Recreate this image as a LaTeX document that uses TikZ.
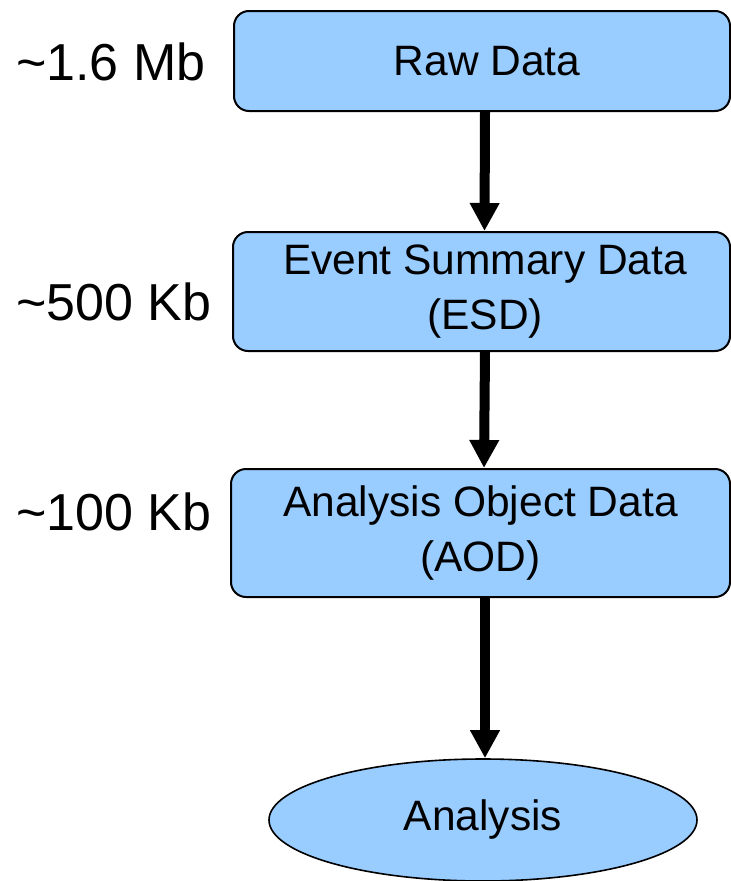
\documentclass[tikz,border=0pt]{standalone}
\usepackage{fontspec}
\setmainfont{Liberation Sans}
\usetikzlibrary{arrows.meta,shapes.geometric}

\definecolor{boxblue}{RGB}{153,204,255}

\tikzset{
  stage/.style={draw=black, line width=2pt, fill=boxblue, rounded corners=15pt,
    align=center, inner sep=0pt, font=\fontsize{42.5}{55}\selectfont},
  goal/.style={draw=black, line width=1.6pt, fill=boxblue, ellipse, inner sep=0pt,
    minimum width=428pt, minimum height=122pt, font=\fontsize{42.5}{50}\selectfont},
  size/.style={anchor=base west, inner sep=0pt, font=\fontsize{52}{60}\selectfont},
  flow/.style={line width=10pt, -{Triangle[width=28pt,length=28pt]}},
}

\begin{document}
\begin{tikzpicture}[x=1pt, y=-1pt]
  \useasboundingbox (0,0) rectangle (731,881);

  % processing stages
  \node[stage, minimum width=496pt, minimum height=100pt] (raw) at (482,61)
    {\hspace*{10pt}Raw Data};
  \node[stage, minimum width=497pt, minimum height=119pt] (esd) at (481.5,291.5)
    {\hspace*{7pt}Event Summary Data\\\hspace*{7pt}(ESD)};
  \node[stage, minimum width=499pt, minimum height=128pt] (aod) at (480.5,533)
    {Analysis Object Data\\(AOD)};
  \node[goal] (ana) at (483,820) {Analysis};

  % event sizes
  \node[size] (s1) at (16,80) {\char`\~1.6 Mb};
  \node[size] (s2) at (16,320) {\char`\~500 Kb};
  \node[size] (s3) at (16,530) {\char`\~100 Kb};

  % data flow
  \draw[flow] ([xshift=3pt]raw.south) -- ([xshift=3pt]esd.north);
  \draw[flow] ([xshift=3.5pt]esd.south) -- ([xshift=3.5pt]aod.north);
  \draw[flow] ([xshift=4.5pt]aod.south) -- ([xshift=2pt]ana.north);
\end{tikzpicture}
\end{document}
